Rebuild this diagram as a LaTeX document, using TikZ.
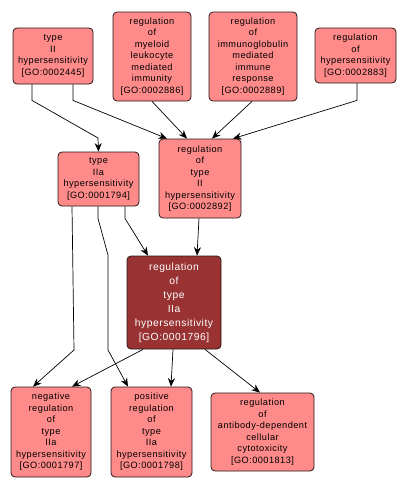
\documentclass[tikz,border=0pt]{standalone}
\usepackage{fontspec}
\setmainfont[LetterSpace=5]{Liberation Sans}
\usetikzlibrary{arrows.meta}
\definecolor{lightnode}{RGB}{255,138,138}
\definecolor{focusnode}{RGB}{153,51,51}
\definecolor{edgeline}{RGB}{40,20,20}
\tikzset{
  term/.style={draw=edgeline, line width=0.8pt, rounded corners=4pt, fill=lightnode,
    align=center, inner sep=0pt, font=\fontsize{9.2}{11.5}\selectfont},
  focus/.style={term, fill=focusnode, text=white, font=\fontsize{10.3}{14}\selectfont},
  link/.style={draw=black, line width=0.7pt, -{Stealth[length=8.5pt,width=7pt]}}
}
\begin{document}
\begin{tikzpicture}[x=1pt,y=-1pt]
\useasboundingbox (0,0) rectangle (407,490);
\node[term, minimum width=80pt, minimum height=56pt] (A) at (53,56) {type\\II\\hypersensitivity\\{[GO:0002445]}};
\node[term, minimum width=78pt, minimum height=89pt] (B) at (152,56.5) {regulation\\of\\myeloid\\leukocyte\\mediated\\immunity\\{[GO:0002886]}};
\node[term, minimum width=88pt, minimum height=89pt] (C) at (253,56.5) {regulation\\of\\immunoglobulin\\mediated\\immune\\response\\{[GO:0002889]}};
\node[term, minimum width=81pt, minimum height=55pt] (D) at (355.5,55.5) {regulation\\of\\hypersensitivity\\{[GO:0002883]}};
\node[term, minimum width=81pt, minimum height=54pt] (E) at (98.5,179) {type\\IIa\\hypersensitivity\\{[GO:0001794]}};
\node[term, minimum width=82pt, minimum height=79pt] (F) at (200,178.5) {regulation\\of\\type\\II\\hypersensitivity\\{[GO:0002892]}};
\node[focus, minimum width=94pt, minimum height=93pt] (G) at (174,302.5) {regulation\\of\\type\\IIa\\hypersensitivity\\{[GO:0001796]}};
\node[term, minimum width=80pt, minimum height=90pt] (H) at (51,432) {negative\\regulation\\of\\type\\IIa\\hypersensitivity\\{[GO:0001797]}};
\node[term, minimum width=81pt, minimum height=90pt] (I) at (151.5,432) {positive\\regulation\\of\\type\\IIa\\hypersensitivity\\{[GO:0001798]}};
\node[term, minimum width=103pt, minimum height=78pt] (J) at (262.5,432) {regulation\\of\\antibody-dependent\\cellular\\cytotoxicity\\{[GO:0001813]}};

\draw[link] ([xshift=-21pt]A.south) -- ++(0,16) -- (98,138) -- (E.north);
\draw[link] ([xshift=20pt]A.south) -- ++(0,16) -- ([xshift=-33pt]F.north);
\draw[link] (B.south) -- ([xshift=-13pt]F.north);
\draw[link] ([xshift=-1pt]C.south) -- ([xshift=12pt]F.north);
\draw[link] ([xshift=1.5pt]D.south) -- ++(0,17) -- ([xshift=33pt]F.north);
\draw[link] ([xshift=-1pt]F.south) -- ([xshift=23pt]G.north);
\draw[link] ([xshift=26.5pt]E.south) -- ++(0,12) -- ([xshift=-26pt]G.north);
\draw[link] ([xshift=-26.5pt]E.south) -- (74,350) -- ([xshift=-18pt]H.north);
\draw[link] ([xshift=-0.5pt]E.south) -- ++(0,12) -- (108,255) -- (108,350) -- ([xshift=-23.5pt]I.north);
\draw[link] ([xshift=-31pt]G.south) -- ([xshift=21pt]H.north);
\draw[link] ([xshift=-1pt]G.south) -- ([xshift=19.5pt]I.north);
\draw[link] ([xshift=31pt]G.south) -- ([xshift=-2.5pt]J.north);
\end{tikzpicture}
\end{document}
